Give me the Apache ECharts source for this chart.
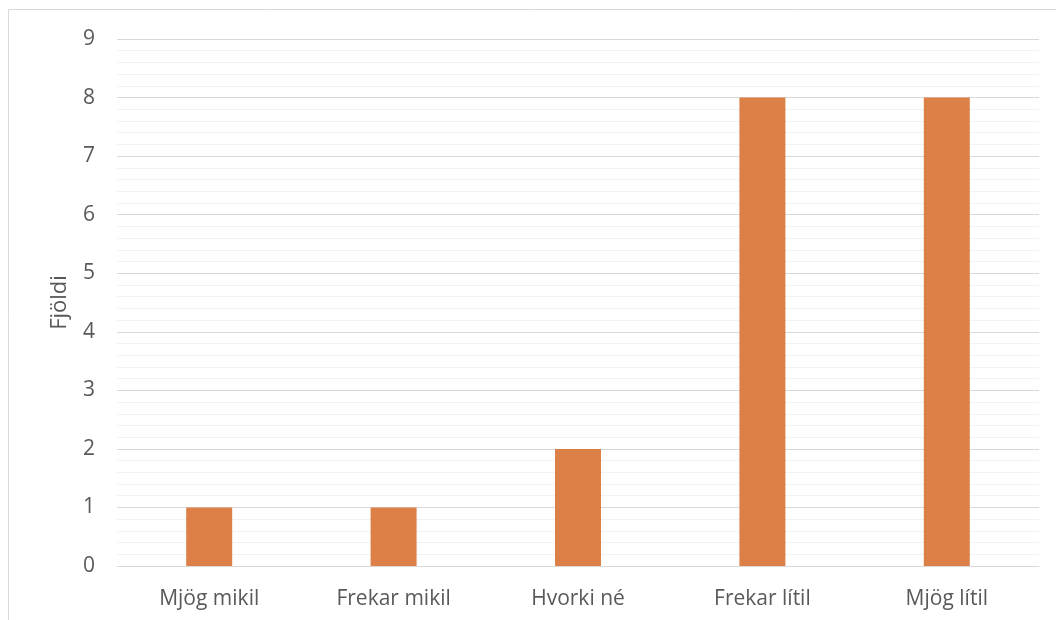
<!DOCTYPE html>
<html><head><meta charset="utf-8">
<script src="https://cdn.jsdelivr.net/npm/echarts@6/dist/echarts.min.js"></script>
<style>html,body{margin:0;padding:0;background:#fff}#c{width:1056px;height:620px}</style>
</head><body><div id="c"></div>
<script>
const categories = ["Mjög mikil", "Frekar mikil", "Hvorki né", "Frekar lítil", "Mjög lítil"];
const values = [1, 1, 2, 8, 8];
const yAxisName = "Fjöldi";

const chart = echarts.init(document.getElementById('c'), null, {renderer: 'canvas'});
const font = '"Open Sans", sans-serif';
chart.setOption({
  animation: false,
  graphic: [{type: 'rect', shape: {x: 8.5, y: 9.5, width: 1200, height: 800}, style: {fill: 'none', stroke: '#D9D9D9', lineWidth: 1}, silent: true}],
  grid: {left: 117, right: 17, top: 39, bottom: 54, containLabel: false},
  xAxis: {
    type: 'category', data: categories,
    axisLine: {show: true, lineStyle: {color: '#D9D9D9', width: 1}},
    axisTick: {show: false},
    axisLabel: {color: '#595959', fontSize: 21, fontFamily: font, margin: 23}
  },
  yAxis: {
    type: 'value', min: 0, max: 9, interval: 1,
    name: yAxisName, nameLocation: 'middle', nameGap: 46, nameRotate: 90,
    nameTextStyle: {color: '#595959', fontSize: 22, fontFamily: font},
    axisLine: {show: false}, axisTick: {show: false},
    axisLabel: {color: '#595959', fontSize: 21, fontFamily: font, margin: 22},
    splitLine: {show: true, lineStyle: {color: '#D9D9D9', width: 1}},
    minorTick: {show: false, splitNumber: 5},
    minorSplitLine: {show: true, lineStyle: {color: '#F2F2F2', width: 1}}
  },
  series: [{type: 'bar', data: values, barWidth: 46, itemStyle: {color: '#DD8047'}}]
});
</script></body></html>
